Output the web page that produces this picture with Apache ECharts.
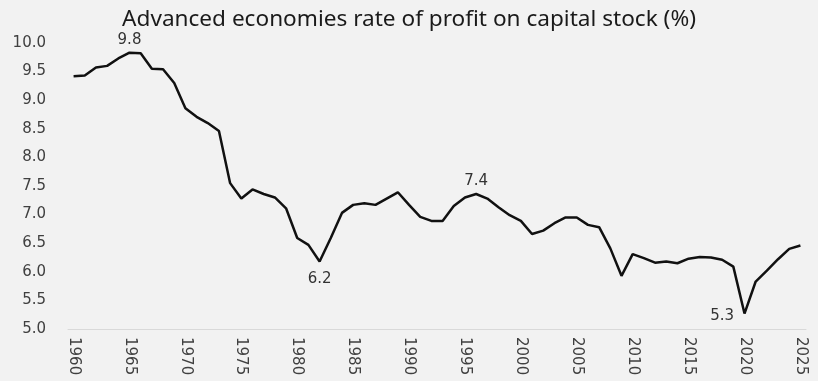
<!DOCTYPE html>
<html><head><meta charset="utf-8">
<script src="https://cdn.jsdelivr.net/npm/echarts@6/dist/echarts.min.js"></script>
<style>html,body{margin:0;padding:0;background:#f2f2f2;}#c{width:818px;height:381px;}</style>
</head><body><div id="c"></div>
<script>
const years = [];
for (let y = 1960; y <= 2025; y++) years.push(String(y));
const profitRate = [
  9.42, 9.43, 9.57, 9.60, 9.73, 9.83, 9.82, 9.55, 9.54, 9.30,
  8.86, 8.71, 8.60, 8.46, 7.55, 7.28, 7.44, 7.36, 7.30, 7.11,
  6.59, 6.47, 6.18, 6.59, 7.03, 7.17, 7.20, 7.17, 7.28, 7.39,
  7.17, 6.96, 6.89, 6.89, 7.15, 7.30, 7.36, 7.28, 7.13, 6.99,
  6.89, 6.66, 6.72, 6.85, 6.95, 6.95, 6.82, 6.78, 6.41, 5.93,
  6.31, 6.24, 6.16, 6.18, 6.15, 6.23, 6.26, 6.25, 6.21, 6.09,
  5.27, 5.83, 6.02, 6.22, 6.40, 6.46
];
const annotYears = ['1965', '1982', '1996', '2020'];
const annotTexts = ['9.8', '6.2', '7.4', '5.3'];
const annotPos = ['top', 'bottom', 'top', 'left'];
const yTicks = ['5.0','5.5','6.0','6.5','7.0','7.5','8.0','8.5','9.0','9.5','10.0'];

const labelDist = { top: 5, bottom: 10, left: 10 };
const markData = annotYears.map((yr, k) => ({
  coord: [yr, profitRate[years.indexOf(yr)]],
  label: { formatter: annotTexts[k], position: annotPos[k], distance: labelDist[annotPos[k]],
    offset: annotPos[k] === 'left' ? [0, 3] : [0, 0] }
}));

const chart = echarts.init(document.getElementById('c'));
chart.setOption({
  backgroundColor: '#f2f2f2',
  animation: false,
  title: {
    text: 'Advanced economies rate of profit on capital stock (%)',
    left: 'center', top: 3,
    textStyle: { fontFamily: 'Noto Sans', fontSize: 22.6, fontWeight: 'normal', color: '#1a1a1a' }
  },
  grid: { left: 68, right: 12, top: 43, bottom: 52 },
  xAxis: {
    type: 'category', data: years, boundaryGap: true,
    axisLine: { lineStyle: { color: '#d9d9d9', width: 1 } },
    axisTick: { show: false },
    axisLabel: { interval: 4, rotate: -90, color: '#404040', fontFamily: 'DejaVu Sans', fontSize: 15, margin: 8 }
  },
  yAxis: {
    type: 'value', min: 5, max: 10, interval: 0.5,
    splitLine: { show: false },
    axisLine: { show: false }, axisTick: { show: false },
    axisLabel: { color: '#404040', fontFamily: 'DejaVu Sans', fontSize: 15, margin: 22,
      formatter: v => yTicks[Math.round((v - 5) / 0.5)] }
  },
  series: [{
    type: 'line', data: profitRate, symbol: 'none', smooth: false,
    lineStyle: { color: '#111111', width: 2.5 },
    markPoint: {
      symbol: 'circle', symbolSize: 1,
      itemStyle: { color: 'rgba(0,0,0,0)' },
      label: { show: true, color: '#333', fontFamily: 'DejaVu Sans', fontSize: 15 },
      data: markData
    }
  }]
});
</script></body></html>
